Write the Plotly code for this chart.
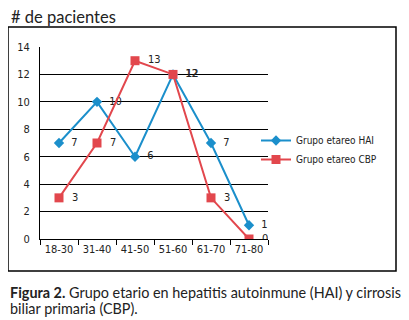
import plotly.graph_objects as go

categories = ["18-30", "31-40", "41-50", "51-60", "61-70", "71-80"]
hai_values = [7, 10, 6, 12, 7, 1]
cbp_values = [3, 7, 13, 12, 3, 0]
y_ticks = [0, 2, 4, 6, 8, 10, 12, 14]

BLUE = "#1b8fcb"
RED = "#e2474d"
NARROW = "DejaVu Sans Condensed, Liberation Sans Narrow, Arial Narrow, Liberation Sans, Arial"
TICKFONT = dict(family=NARROW, size=11, color="#222")

fig = go.Figure()
fig.add_trace(go.Scatter(
    x=categories, y=hai_values, name="Grupo etareo HAI",
    mode="lines+markers+text", text=[f"  {v}" for v in hai_values],
    textposition="middle right", textfont=TICKFONT,
    line=dict(color=BLUE, width=2), marker=dict(symbol="diamond", size=8, color=BLUE),
))
fig.add_trace(go.Scatter(
    x=categories, y=cbp_values, name="Grupo etareo CBP",
    mode="lines+markers+text", text=[f"  {v}" for v in cbp_values],
    textposition="middle right", textfont=TICKFONT,
    line=dict(color=RED, width=2), marker=dict(symbol="square", size=9, color=RED),
))

# page body has an 8px margin; figure is offset by that amount
OFF = 8
W, H = 409 - OFF, 320 - OFF
# plot area in reference-picture pixels
RL, RR, RT, RB = 40, 268, 47, 239
pw, ph = RR - RL, RB - RT

def px(x):
    return (x - RL) / pw

def py(y):
    return (RB - y) / ph

fig.update_layout(
    width=W, height=H,
    margin=dict(l=RL - OFF, r=W - (RR - OFF), t=RT - OFF, b=H - (RB - OFF), pad=0, autoexpand=False),
    paper_bgcolor="white", plot_bgcolor="white",
    showlegend=True,
    legend=dict(x=px(382), y=py(150), xanchor="right", yanchor="middle",
                font=dict(family=NARROW, size=10, color="#222"),
                bgcolor="rgba(0,0,0,0)", itemwidth=30),
    xaxis=dict(type="category", range=[-0.5, 5.5], showgrid=False,
               showline=True, linecolor="black", linewidth=1,
               ticks="outside", tickson="boundaries", ticklen=5, tickcolor="black",
               tickangle=0, tickfont=TICKFONT, fixedrange=True, automargin=False),
    yaxis=dict(range=[0, 14], tickvals=y_ticks, showgrid=True, gridcolor="black", gridwidth=1,
               showline=True, linecolor="black", linewidth=1, zeroline=False,
               ticks="outside", ticklen=7, tickcolor="white",
               tickfont=TICKFONT, fixedrange=True, automargin=False),
    shapes=[dict(type="rect", xref="paper", yref="paper",
                 x0=px(8), x1=px(396), y0=py(271), y1=py(27),
                 line=dict(color="black", width=1.5), fillcolor="rgba(0,0,0,0)", layer="below")],
    annotations=[
        dict(text="# de pacientes", xref="paper", yref="paper", x=px(9), y=py(17),
             xanchor="left", yanchor="middle", showarrow=False,
             font=dict(family="Lato, Noto Sans, sans-serif", size=16.5, color="#222")),
        dict(text="<b>Figura 2.</b> Grupo etario en hepatitis autoinmune (HAI) y cirrosis",
             xref="paper", yref="paper", x=px(8), y=py(292),
             xanchor="left", yanchor="middle", showarrow=False,
             font=dict(family="Lato, Noto Sans, sans-serif", size=14.4, color="#222")),
        dict(text="biliar primaria (CBP).",
             xref="paper", yref="paper", x=px(8), y=py(308),
             xanchor="left", yanchor="middle", showarrow=False,
             font=dict(family="Lato, Noto Sans, sans-serif", size=14.4, color="#222")),
    ],
)

fig.write_html("out.html")
